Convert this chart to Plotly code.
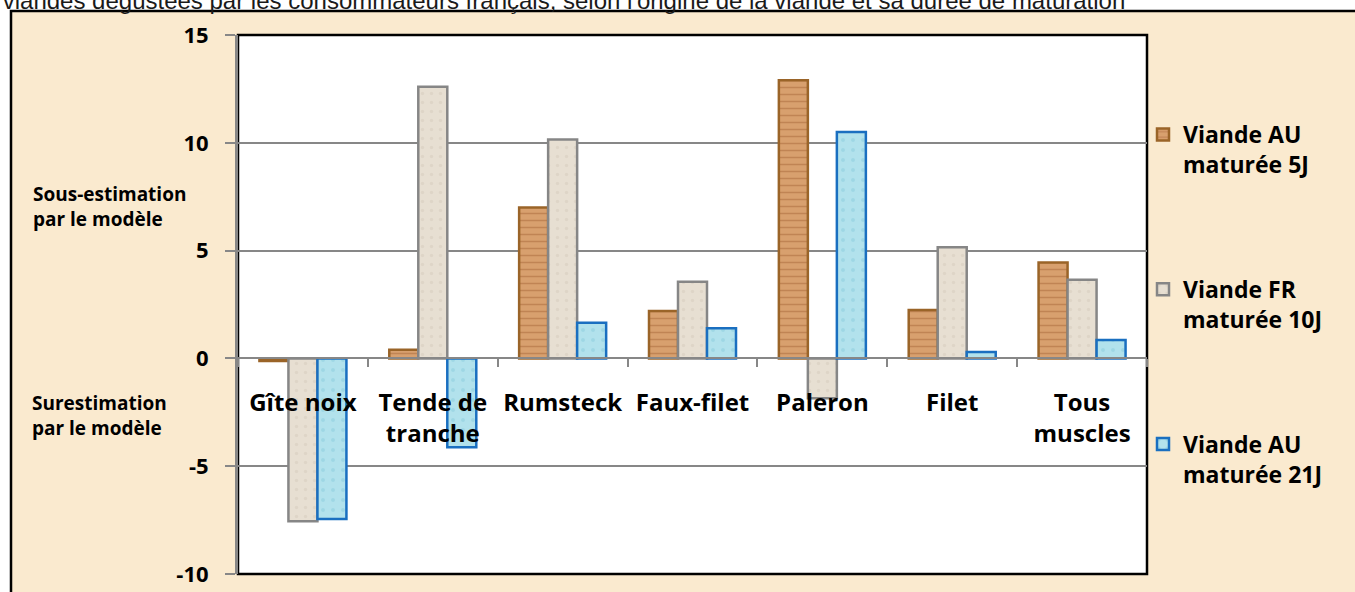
import plotly.graph_objects as go

categories = ["Gîte noix", "Tende de<br>tranche", "Rumsteck", "Faux-filet", "Paleron", "Filet", "Tous<br>muscles"]
au_5j = [-0.12, 0.4, 7.0, 2.2, 12.9, 2.25, 4.45]
fr_10j = [-7.55, 12.6, 10.15, 3.55, -1.85, 5.15, 3.65]
au_21j = [-7.45, -4.12, 1.65, 1.4, 10.5, 0.3, 0.85]
series_names = ["Viande AU<br>maturée 5J", "Viande FR<br>maturée 10J", "Viande AU<br>maturée 21J"]
y_ticks = [-10, -5, 0, 5, 10, 15]
title_text = "viandes dégustées par les consommateurs français, selon l'origine de la viande et sa durée de maturation"

W, H = 1355, 592
L, R, T, B = 238, 208, 35, 18
pw, ph = W - L - R, H - T - B

def px_x(p):
    return (p - L) / pw

def px_y(p):
    return (H - B - p) / ph

fig = go.Figure()
styles = [
    dict(color="#D29663", line="#9A6428", pattern=dict(shape="-", fgcolor="#A8673A", bgcolor="#D8A06E", size=7, solidity=0.22)),
    dict(color="#E5DDCF", line="#868686", pattern=dict(shape=".", fgcolor="#D6CCBC", bgcolor="#E7DFD2", size=9, solidity=0.12)),
    dict(color="#AADDE9", line="#1A6FC0", pattern=dict(shape=".", fgcolor="#8ACBDC", bgcolor="#B2E2EC", size=10, solidity=0.12)),
]
for i, (name, vals) in enumerate(zip(series_names, [au_5j, fr_10j, au_21j])):
    s = styles[i]
    fig.add_trace(go.Bar(
        x=categories, y=vals, name=name, legendgroup=f"g{i}",
        marker=dict(color=s["color"], line=dict(color=s["line"], width=2.5), pattern=s["pattern"]),
    ))

fig.update_layout(
    width=W, height=H,
    margin=dict(l=L, r=R, t=T, b=B, pad=0, autoexpand=False),
    paper_bgcolor="white",
    plot_bgcolor="white",
    barmode="group",
    bargap=0.33,
    bargroupgap=0,
    title=dict(text=title_text, x=0.002, xanchor="left", xref="container", y=0.9995, yanchor="middle",
               font=dict(family="Liberation Sans, Arial", size=24, color="#1a1a1a")),
    legend=dict(x=px_x(1143), xanchor="left", y=px_y(113), yanchor="top",
                font=dict(family="Open Sans", size=23, color="black", weight="bold"),
                tracegroupgap=92, valign="top", bgcolor="rgba(0,0,0,0)", itemwidth=30),
    xaxis=dict(anchor="free", position=10 / 25, type="category", automargin=False,
               showline=True, linecolor="#878787", linewidth=1.5,
               ticks="outside", tickson="boundaries", ticklen=8, tickcolor="#878787", tickwidth=1.5,
               showgrid=False, ticklabelstandoff=23,
               tickfont=dict(family="Open Sans", size=24, color="black", weight="bold")),
    yaxis=dict(range=[-10, 15], tickvals=y_ticks, ticktext=[str(v) for v in y_ticks], automargin=False,
               showgrid=True, gridcolor="#878787", gridwidth=1.5,
               zeroline=True, zerolinecolor="#878787", zerolinewidth=1.5,
               showline=True, linecolor="#878787", linewidth=3,
               ticks="outside", ticklen=10, tickcolor="#878787", tickwidth=1.5,
               ticklabelstandoff=12,
               tickfont=dict(family="Open Sans", size=22, color="black", weight="bold")),
    shapes=[
        dict(type="rect", xref="paper", yref="paper", x0=px_x(11), x1=px_x(W + 20), y0=px_y(11), y1=px_y(H + 20),
             fillcolor="#FAEACF", line=dict(color="black", width=2.5), layer="below"),
        dict(type="rect", xref="paper", yref="paper", x0=0, x1=1, y0=0, y1=1,
             fillcolor="white", line=dict(color="black", width=2.5), layer="below"),
    ],
    annotations=[
        dict(text="Sous-estimation<br>par le modèle", xref="paper", yref="paper", x=px_x(31), y=px_y(206),
             xanchor="left", yanchor="middle", align="left", showarrow=False,
             font=dict(family="Open Sans", size=19, color="black", weight="bold")),
        dict(text="Surestimation<br>par le modèle", xref="paper", yref="paper", x=px_x(30), y=px_y(415),
             xanchor="left", yanchor="middle", align="left", showarrow=False,
             font=dict(family="Open Sans", size=19, color="black", weight="bold")),
    ],
)

fig.write_html("out.html", config={"displayModeBar": False},
               post_script="document.body.style.margin='0px';document.body.style.overflow='hidden';")
